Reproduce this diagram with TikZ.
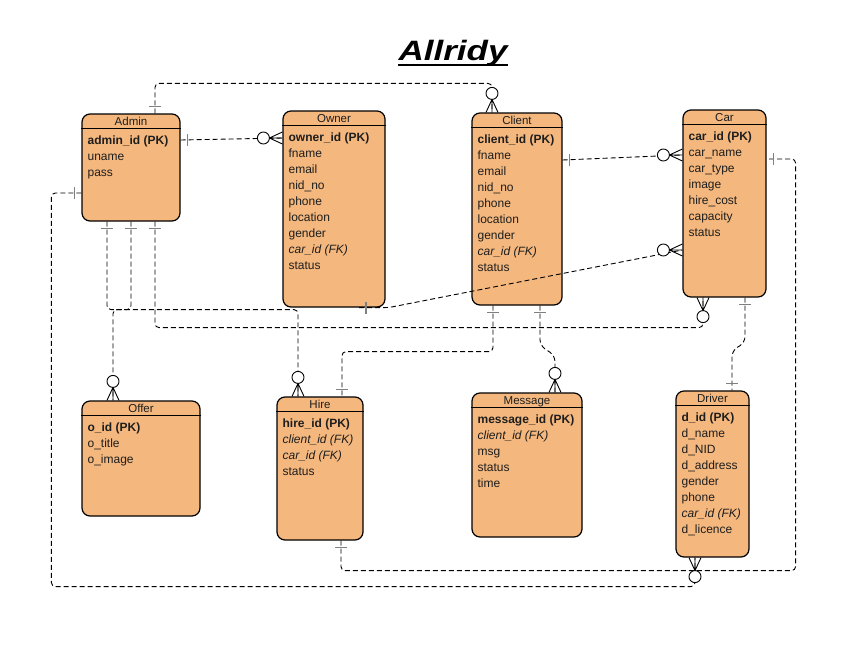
\documentclass[tikz,border=0pt]{standalone}
\usepackage{fontspec}
\setmainfont{Liberation Sans}
\usepackage{graphicx}
\usetikzlibrary{positioning, calc}
\definecolor{entityfill}{RGB}{244,183,125}
\definecolor{markgray}{RGB}{128,128,128}
\definecolor{inkgray}{RGB}{30,30,30}
\newcommand{\pk}[1]{\rule{0pt}{10pt}\textbf{#1}}
\newcommand{\fk}[1]{\textit{#1}}

\begin{document}
\begin{tikzpicture}[x=1pt, y=-1pt,
		entity/.style={draw, line width=1.2pt, rounded corners=8pt, fill=entityfill, inner sep=0pt},
		etitle/.style={font=\fontsize{11.5}{13}\selectfont, text=inkgray, text height=8.2pt, text depth=0pt, inner sep=0pt},
		attrs/.style={font=\fontsize{12}{16}\selectfont, text=inkgray, align=left, inner sep=0pt},
		rel/.style={dash pattern=on 5pt off 3pt, line width=0.9pt, rounded corners=4pt},
		one/.pic={\draw[markgray, line width=1.4pt] (7,-6) -- (7,6);},
		zeromany/.pic={\draw[line width=0.9pt] (0,-6) -- (13,0) -- (0,6) (0,0) -- (13,0);
			\draw[line width=0.9pt, fill=white] (19,0) circle (6pt);}]
		\useasboundingbox (0,0) rectangle (863,659);

		% title
		\node[font=\fontsize{28}{30}\selectfont\bfseries\itshape, inner sep=0pt, anchor=base] (title) at (453,60) {\scalebox{1.25}[1]{Allridy}};
		\draw[line width=2.6pt] ($(title.base west)+(0,4.8)$) -- ($(title.base east)+(0,4.8)$);

		% entities
		\node[entity, minimum width=98, minimum height=107] (admin) at (131,167.5) {};
		\node[entity, minimum width=102, minimum height=196] (owner) at (334,209) {};
		\node[entity, minimum width=90, minimum height=192] (client) at (517,209) {};
		\node[entity, minimum width=83, minimum height=187] (car) at (724.5,203.5) {};
		\node[entity, minimum width=118, minimum height=115] (offer) at (141,458.5) {};
		\node[entity, minimum width=86, minimum height=143] (hire) at (320,468.5) {};
		\node[entity, minimum width=110, minimum height=144] (message) at (527,465) {};
		\node[entity, minimum width=73, minimum height=166] (driver) at (712.5,474) {};

		\foreach \e/\t in {admin/Admin, owner/Owner, client/Client, car/Car, offer/Offer, hire/Hire, message/Message, driver/Driver} {
			\draw[line width=1.2pt] ($(\e.north west)+(0,15)$) -- ($(\e.north east)+(0,15)$);
			\node[etitle, below=3.5pt of \e.north] (\e-title) {\t};
		}

		\node[attrs, below right=21pt and 6pt of admin.north west] (admin-attr) {\pk{admin\_id (PK)}\\ uname\\ pass};
		\node[attrs, below right=21pt and 6pt of owner.north west] (owner-attr) {\pk{owner\_id (PK)}\\ fname\\ email\\ nid\_no\\ phone\\ location\\ gender\\ \fk{car\_id (FK)}\\ status};
		\node[attrs, below right=21pt and 6pt of client.north west] (client-attr) {\pk{client\_id (PK)}\\ fname\\ email\\ nid\_no\\ phone\\ location\\ gender\\ \fk{car\_id (FK)}\\ status};
		\node[attrs, below right=21pt and 6pt of car.north west] (car-attr) {\pk{car\_id (PK)}\\ car\_name\\ car\_type\\ image\\ hire\_cost\\ capacity\\ status};
		\node[attrs, below right=21pt and 6pt of offer.north west] (offer-attr) {\pk{o\_id (PK)}\\ o\_title\\ o\_image};
		\node[attrs, below right=21pt and 6pt of hire.north west] (hire-attr) {\pk{hire\_id (PK)}\\ \fk{client\_id (FK)}\\ \fk{car\_id (FK)}\\ status};
		\node[attrs, below right=21pt and 6pt of message.north west] (message-attr) {\pk{message\_id (PK)}\\ \fk{client\_id (FK)}\\ msg\\ status\\ time};
		\node[attrs, below right=21pt and 6pt of driver.north west] (driver-attr) {\pk{d\_id (PK)}\\ d\_name\\ d\_NID\\ d\_address\\ gender\\ phone\\ \fk{car\_id (FK)}\\ d\_licence};

		% relations
		\draw[rel] ($(admin.north)+(24,0)$) -- ++(0,-30) -| ($(client.north)+(-25,0)$);
		\draw[rel] ($(admin.east)+(0,-27.5)$) -- ($(owner.west)+(0,-71)$);
		\draw[rel] ($(admin.west)+(0,25.5)$) -- ++(-30,0) |- ($(driver.south)+(-17.5,29)$) -- ($(driver.south)+(-17.5,0)$);
		\draw[rel] ($(admin.south)+(-24,0)$) -- ++(0,88) -| ($(hire.north)+(-22,0)$);
		\draw[rel] (admin.south) -- ++(0,88) -| ($(offer.north)+(-28,0)$);
		\draw[rel] ($(admin.south)+(24,0)$) -- ++(0,106) -| ($(car.south)+(-21.5,0)$);
		\draw[rel] ($(owner.south)+(25,0)$) -- ($(owner.south east)+(3,0)$) -- ($(car.west)+(0,46.5)$);
		\draw[rel] ($(client.east)+(0,-49)$) -- ($(car.west)+(0,-48.5)$);
		\draw[rel] ($(client.south)+(-24,0)$) -- ++(0,46) -| ($(hire.north)+(22,0)$);
		\draw[rel, rounded corners=6pt] ($(client.south)+(23,0)$) -- ++(0,40) -- ++(15,10) -- ($(message.north)+(28,0)$);
		\draw[rel, rounded corners=6pt] ($(car.south)+(20.5,0)$) -- ++(0,45) -- ++(-13,8) -- ($(driver.north)+(19.5,0)$);
		\draw[rel] ($(hire.south)+(21,0)$) -- ++(0,30) -| ($(car.east)+(29,-44.5)$) -- ($(car.east)+(0,-44.5)$);

		% ends
		\pic[rotate=90] at ($(admin.north)+(24,0)$) {one};
		\pic[rotate=90] at ($(client.north)+(-25,0)$) {zeromany};
		\pic at ($(admin.east)+(0,-27.5)$) {one};
		\pic[rotate=180] at ($(owner.west)+(0,-71)$) {zeromany};
		\pic[rotate=180] at ($(admin.west)+(0,25.5)$) {one};
		\pic[rotate=-90] at ($(driver.south)+(-17.5,0)$) {zeromany};
		\foreach \dx in {-24,0,24} {
			\pic[rotate=-90] at ($(admin.south)+(\dx,0)$) {one};
		}
		\pic[rotate=90] at ($(hire.north)+(-22,0)$) {zeromany};
		\pic[rotate=90] at ($(offer.north)+(-28,0)$) {zeromany};
		\pic[rotate=-90] at ($(car.south)+(-21.5,0)$) {zeromany};
		\pic at ($(owner.south)+(25,0)$) {one};
		\pic[rotate=180] at ($(car.west)+(0,46.5)$) {zeromany};
		\pic at ($(client.east)+(0,-49)$) {one};
		\pic[rotate=180] at ($(car.west)+(0,-48.5)$) {zeromany};
		\pic[rotate=-90] at ($(client.south)+(-24,0)$) {one};
		\pic[rotate=90] at ($(hire.north)+(22,0)$) {one};
		\pic[rotate=-90] at ($(client.south)+(23,0)$) {one};
		\pic[rotate=90] at ($(message.north)+(28,0)$) {zeromany};
		\pic[rotate=-90] at ($(car.south)+(20.5,0)$) {one};
		\pic[rotate=90] at ($(driver.north)+(19.5,0)$) {one};
		\pic[rotate=-90] at ($(hire.south)+(21,0)$) {one};
		\pic at ($(car.east)+(0,-44.5)$) {one};
	\end{tikzpicture}
\end{document}
